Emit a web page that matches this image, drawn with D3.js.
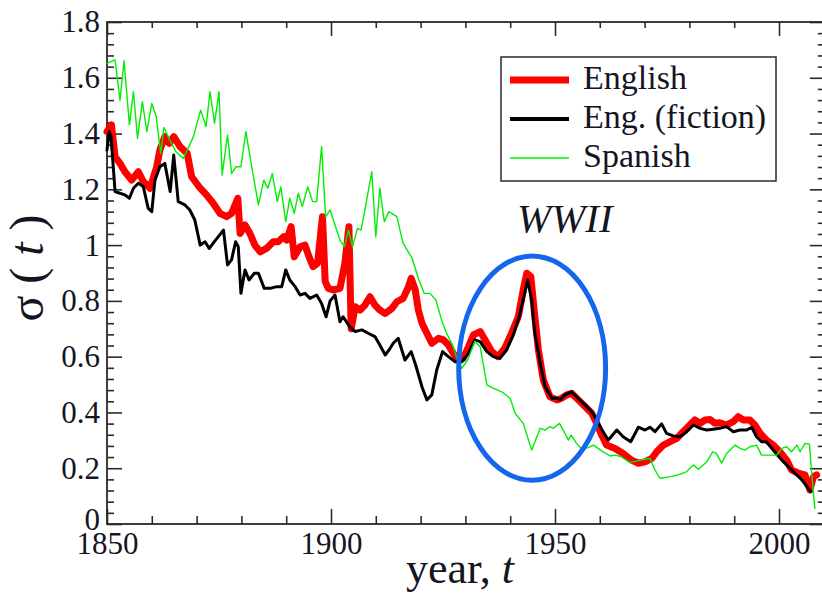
<!DOCTYPE html>
<html>
<head>
<meta charset="utf-8">
<script src="https://cdn.jsdelivr.net/npm/d3@7/dist/d3.min.js"></script>
<style>
  html, body { margin: 0; padding: 0; background: #fff; }
  svg { display: block; font-family: "Liberation Serif", "DejaVu Serif", serif; }
</style>
</head>
<body>
<svg id="chart" width="822" height="598"></svg>
<script>
// σ(t) by year for three corpora
const englishYears = [1850,1851,1851.8,1852.9,1854,1855.5,1857,1858.1,1859.6,1861.1,1861.8,1862.9,1863.9,1864.9,1866.3,1867.9,1868.9,1870.8,1872.2,1873.7,1875.2,1876.7,1877.8,1879.2,1879.7,1880.8,1881.9,1883,1884.2,1885.6,1887.1,1888.2,1889.4,1890.1,1891.1,1891.8,1893.1,1894.2,1895.1,1896,1897,1898.1,1898.7,1899.4,1900.5,1902,1903.1,1904,1904.5,1905.4,1906.5,1907.6,1908.7,1909.8,1910.9,1912.1,1913.6,1914.7,1916.1,1917.3,1917.9,1918.8,1919.5,1920.3,1921.4,1922.5,1924,1925.1,1926.2,1927.3,1928.4,1929.5,1930.7,1931.8,1933.3,1934.4,1935.9,1937.3,1938.8,1940.3,1941.8,1942.9,1943.7,1944.6,1945.5,1946.3,1947.4,1948.9,1950.4,1951.5,1952.6,1953.7,1955.2,1956.7,1958.2,1959.3,1960.4,1961.5,1963.4,1965.2,1967.1,1968.6,1970.1,1971.6,1972.7,1974.2,1975.7,1977.2,1978.6,1980.1,1981.2,1982.4,1983.5,1984.6,1985.7,1986.8,1988.3,1989.8,1990.9,1992,1993.5,1994.6,1995.8,1997.2,1998.7,2000.2,2001.7,2002.8,2004.3,2005.8,2006.9,2007.7,2008.4];
const englishValues = [1.407,1.431,1.317,1.293,1.263,1.233,1.263,1.228,1.204,1.281,1.341,1.389,1.365,1.389,1.353,1.329,1.245,1.204,1.180,1.150,1.114,1.102,1.114,1.168,1.042,1.072,1.042,1.000,0.976,0.988,1.012,1.012,1.030,1.018,1.066,0.958,0.994,1.000,0.958,0.923,0.935,1.102,0.870,0.845,0.839,0.845,0.935,1.066,0.700,0.779,0.767,0.785,0.815,0.785,0.767,0.755,0.773,0.797,0.809,0.851,0.881,0.839,0.767,0.720,0.684,0.648,0.666,0.660,0.642,0.612,0.588,0.594,0.636,0.678,0.690,0.660,0.618,0.600,0.630,0.684,0.743,0.839,0.899,0.887,0.743,0.624,0.516,0.456,0.445,0.451,0.463,0.469,0.445,0.421,0.397,0.361,0.320,0.283,0.271,0.253,0.229,0.218,0.223,0.235,0.259,0.283,0.295,0.307,0.331,0.355,0.373,0.361,0.373,0.375,0.361,0.363,0.355,0.367,0.385,0.373,0.373,0.355,0.325,0.301,0.283,0.259,0.229,0.194,0.182,0.176,0.122,0.170,0.176];

const fictionYears = [1850,1850.5,1850.9,1851.8,1852.9,1854,1855,1855.9,1857,1858.1,1859.2,1860,1860.7,1861.8,1862.9,1864.1,1864.9,1865.9,1867.4,1868.5,1869.6,1870.8,1871.9,1872.8,1874.1,1876,1876.9,1877.8,1878.7,1879.3,1879.9,1880.8,1881.7,1882.9,1883.8,1885.1,1886.4,1887.9,1889,1889.9,1890.8,1892,1893.1,1894.2,1895.3,1896.8,1897.9,1898.9,1899.8,1900.9,1902,1902.7,1904.2,1905.4,1906.9,1908.3,1909.8,1910.9,1912.1,1913.2,1913.9,1915,1916.5,1917.9,1918.9,1920.3,1921.4,1922.5,1923.6,1924.9,1926.2,1927.7,1929.2,1930.7,1932.1,1933.3,1934.8,1936.2,1937.7,1939.2,1940.7,1942,1942.9,1943.9,1944.8,1945.5,1946.7,1947.8,1949.3,1950.4,1951.1,1952.2,1953.7,1955.2,1956.7,1958.2,1959.3,1960.4,1961.9,1963.8,1965.2,1966.9,1968.6,1970.1,1971.2,1972.3,1973.8,1974.9,1976.4,1977.9,1979.4,1980.9,1982.4,1983.9,1985.3,1986.8,1988.3,1989.8,1991.3,1992.8,1993.9,1995,1996.1,1997.2,1998.7,2000.6,2002.1,2003.6,2005.1,2006.5,2007.1];
const fictionValues = [1.341,1.407,1.389,1.192,1.186,1.180,1.168,1.204,1.222,1.210,1.132,1.120,1.233,1.281,1.293,1.192,1.323,1.156,1.144,1.126,1.090,1.000,1.012,0.988,1.015,1.054,0.929,0.947,1.012,0.994,0.827,0.911,0.875,0.899,0.899,0.845,0.845,0.851,0.851,0.911,0.875,0.851,0.821,0.827,0.809,0.821,0.791,0.743,0.800,0.821,0.725,0.743,0.707,0.690,0.696,0.684,0.672,0.642,0.606,0.630,0.648,0.666,0.588,0.618,0.570,0.492,0.445,0.463,0.552,0.618,0.600,0.582,0.582,0.612,0.660,0.654,0.618,0.600,0.594,0.624,0.678,0.743,0.803,0.875,0.803,0.684,0.576,0.492,0.451,0.451,0.445,0.463,0.474,0.451,0.427,0.403,0.373,0.340,0.301,0.337,0.313,0.295,0.347,0.337,0.347,0.331,0.359,0.325,0.316,0.313,0.331,0.355,0.343,0.337,0.340,0.343,0.349,0.331,0.337,0.337,0.347,0.313,0.295,0.295,0.265,0.229,0.206,0.182,0.158,0.128,0.116];

const spanishYears = [1850,1851.8,1852.9,1853.8,1855,1855.9,1856.8,1857.9,1858.9,1860,1861,1862,1862.7,1864,1865.4,1867,1868.1,1869.3,1870.9,1872.1,1873,1874,1875,1875.7,1876.9,1877.8,1878.8,1879.9,1881,1882.3,1883.8,1885,1885.9,1886.9,1888,1888.8,1889.9,1890.8,1891.8,1892.7,1893.6,1894.8,1895.9,1896.8,1897.9,1898.8,1899.8,1902,1903,1903.9,1904.8,1905.9,1906.7,1907.7,1909.1,1910,1910.9,1911.9,1912.9,1914.7,1916.1,1918.1,1919.5,1920.8,1922.1,1923.4,1924.7,1925.8,1927.3,1928.1,1929.2,1930.5,1932.1,1933.3,1934.8,1936.2,1938.1,1940,1941.1,1942.9,1944.8,1946.7,1947.8,1948.9,1949.6,1951,1952,1953,1953.6,1954.8,1956,1957.4,1958.6,1960.4,1962.3,1963.5,1964.8,1966.7,1969,1971.2,1972.3,1973.4,1975.7,1977.5,1979.4,1980.9,1982,1983.9,1985.2,1986,1987.2,1988.3,1990.2,1991.3,1992.4,1993.5,1995,1996.1,1998,1999.5,2000.6,2001.7,2002.8,2004,2004.7,2005.8,2006.8,2007.3,2008];
const spanishValues = [1.652,1.664,1.520,1.661,1.431,1.550,1.383,1.514,1.407,1.508,1.460,1.329,1.422,1.377,1.335,1.311,1.347,1.389,1.484,1.425,1.550,1.437,1.550,1.251,1.395,1.257,1.281,1.281,1.407,1.281,1.144,1.233,1.204,1.257,1.156,1.209,1.084,1.168,1.114,1.186,1.138,1.209,1.156,1.156,1.353,1.100,1.126,1.018,0.994,1.054,0.994,1.060,1.054,1.138,1.263,1.030,1.204,1.084,1.120,1.102,1.006,0.953,0.881,0.827,0.827,0.803,0.731,0.684,0.636,0.594,0.558,0.588,0.655,0.636,0.498,0.487,0.474,0.451,0.397,0.361,0.265,0.343,0.337,0.349,0.343,0.361,0.331,0.301,0.319,0.289,0.268,0.274,0.283,0.262,0.244,0.247,0.241,0.220,0.229,0.235,0.194,0.164,0.170,0.176,0.188,0.212,0.196,0.223,0.259,0.253,0.218,0.253,0.283,0.271,0.265,0.277,0.283,0.247,0.247,0.247,0.271,0.277,0.259,0.283,0.259,0.289,0.286,0.182,0.056];

const seriesNames = ["English", "Eng. (fiction)", "Spanish"];
const xMajorTicks = [1850, 1900, 1950, 2000];
const yMajorTicks = [0, 0.2, 0.4, 0.6, 0.8, 1, 1.2, 1.4, 1.6, 1.8];

const svg = d3.select("#chart");
const plotLeft = 107, plotRight = 823.8, plotTop = 22, plotBottom = 524;

const x = d3.scaleLinear().domain([1850, 2010]).range([plotLeft, plotRight]);
const y = d3.scaleLinear().domain([0, 1.8]).range([plotBottom, plotTop]);

const axisColor = "#2a2a2a";
const textColor = "#15151f";

// frame
svg.append("rect")
  .attr("x", plotLeft).attr("y", plotTop)
  .attr("width", plotRight - plotLeft).attr("height", plotBottom - plotTop)
  .attr("fill", "none").attr("stroke", axisColor).attr("stroke-width", 1.8);

const xMinor = d3.range(1850, 2011, 10).filter(v => !xMajorTicks.includes(v));
const yMinor = d3.range(0, 1.8001, 0.04).map(v => +v.toFixed(2)).filter(v => Math.abs(v * 5 - Math.round(v * 5)) > 1e-6);

function styleAxis(g) {
  g.select(".domain").remove();
  g.selectAll(".tick line").attr("stroke", axisColor).attr("stroke-width", 1.6);
  g.selectAll(".tick text").attr("fill", textColor)
    .style("font-family", '"Liberation Serif", serif').style("font-size", "31px");
}

// bottom axis: labelled major ticks, ticks pointing inward
svg.append("g").attr("transform", `translate(0,${plotBottom})`)
  .call(d3.axisBottom(x).tickValues(xMajorTicks).tickSize(-15).tickPadding(8).tickFormat(d3.format("d")))
  .call(styleAxis);
svg.append("g").attr("transform", `translate(0,${plotBottom})`)
  .call(d3.axisBottom(x).tickValues(xMinor).tickSize(-8).tickFormat(""))
  .call(styleAxis);
// top axis
svg.append("g").attr("transform", `translate(0,${plotTop})`)
  .call(d3.axisBottom(x).tickValues(xMajorTicks).tickSize(14).tickFormat(""))
  .call(styleAxis);
svg.append("g").attr("transform", `translate(0,${plotTop})`)
  .call(d3.axisBottom(x).tickValues(xMinor).tickSize(6).tickFormat(""))
  .call(styleAxis);

// left axis
const yAxisG = svg.append("g").attr("transform", `translate(${plotLeft},0)`)
  .call(d3.axisLeft(y).tickValues(yMajorTicks).tickSize(-15).tickPadding(7).tickFormat(d => d3.format("")(d)))
  .call(styleAxis);
// lift the zero label a touch so it clears the year labels
yAxisG.selectAll(".tick").filter(d => d === 0).select("text").attr("y", -4);
svg.append("g").attr("transform", `translate(${plotLeft},0)`)
  .call(d3.axisLeft(y).tickValues(yMinor).tickSize(-7).tickFormat(""))
  .call(styleAxis);
// right axis
svg.append("g").attr("transform", `translate(${plotRight},0)`)
  .call(d3.axisRight(y).tickValues(yMajorTicks).tickSize(-14).tickFormat(""))
  .call(styleAxis);
svg.append("g").attr("transform", `translate(${plotRight},0)`)
  .call(d3.axisRight(y).tickValues(yMinor).tickSize(-6).tickFormat(""))
  .call(styleAxis);

// series
const series = [
  { name: seriesNames[0], years: englishYears, values: englishValues, color: "#ff0000", width: 7, legendWidth: 7 },
  { name: seriesNames[1], years: fictionYears, values: fictionValues, color: "#000000", width: 3, legendWidth: 4 },
  { name: seriesNames[2], years: spanishYears, values: spanishValues, color: "#00ee00", width: 1.4, legendWidth: 1.4 }
];

const line = d3.line().x(d => x(d[0])).y(d => y(d[1]));

const plot = svg.append("g");
series.forEach(s => {
  const pts = s.years.map((yr, i) => [yr, s.values[i]]);
  plot.append("path")
    .datum(pts)
    .attr("d", line)
    .attr("fill", "none")
    .attr("stroke", s.color)
    .attr("stroke-width", s.width)
    .attr("stroke-linejoin", "round")
    .attr("stroke-linecap", "round");
});

// legend
const legend = svg.append("g");
legend.append("rect")
  .attr("x", 501).attr("y", 57).attr("width", 275).attr("height", 124)
  .attr("fill", "#fff").attr("stroke", axisColor).attr("stroke-width", 1.5);
const legendRows = [80, 119, 158];
series.forEach((s, i) => {
  legend.append("line")
    .attr("x1", 510).attr("x2", 569)
    .attr("y1", legendRows[i]).attr("y2", legendRows[i])
    .attr("stroke", s.color).attr("stroke-width", s.legendWidth);
  legend.append("text")
    .attr("x", 583).attr("y", legendRows[i] + 9)
    .attr("fill", textColor)
    .style("font-size", "34px")
    .text(s.name);
});

// WWII annotation
svg.append("text")
  .attr("x", 517).attr("y", 232)
  .attr("fill", textColor)
  .style("font-size", "41px").style("font-style", "italic")
  .text("WWII");

svg.append("ellipse")
  .attr("cx", x(1944.9)).attr("cy", y(0.559))
  .attr("rx", x(1944.9 + 16.4) - x(1944.9))
  .attr("ry", y(0.559) - y(0.559 + 0.402))
  .attr("fill", "none")
  .attr("stroke", "#1466ee")
  .attr("stroke-width", 5);

// axis titles
const xTitle = svg.append("text")
  .attr("x", 460).attr("y", 583)
  .attr("text-anchor", "middle")
  .attr("fill", textColor)
  .style("font-size", "44px");
xTitle.append("tspan").text("year, ");
xTitle.append("tspan").style("font-style", "italic").text("t");

const yTitle = svg.append("text")
  .attr("transform", "translate(43,268) rotate(-90)")
  .attr("text-anchor", "middle")
  .attr("fill", textColor)
  .style("font-size", "48px");
yTitle.append("tspan").text("σ ( ");
yTitle.append("tspan").style("font-style", "italic").text("t");
yTitle.append("tspan").text(" )");
</script>
</body>
</html>
